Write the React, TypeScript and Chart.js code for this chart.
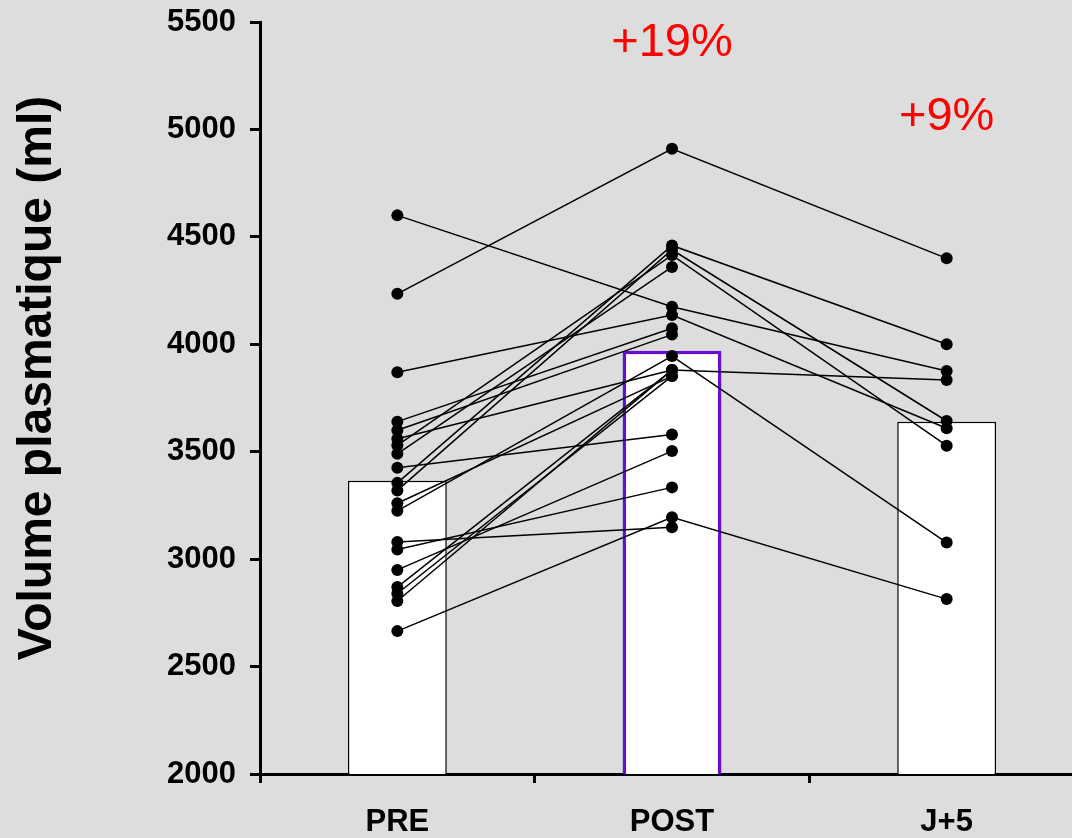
import React, { useEffect, useRef } from 'react';
import { Chart, registerables } from 'chart.js';

Chart.register(...registerables);

const categories = ['PRE', 'POST', 'J+5'];
const meanValues = [3365, 3970, 3640];
const preValues = [4600, 4235, 3870, 3640, 3600, 3560, 3530, 3490, 3425, 3355, 3320, 3260, 3225, 3080, 3045, 2950, 2870, 2840, 2805, 2665];
const postValues = [4175, 4910, 4136, 4075, 4045, 3880, 4415, 4360, 3580, 4460, 4440, 3852, 3945, 3148, 3334, 3503, 3880, 3852, 3880, 3195];
const j5Values: (number | null)[] = [3876, 4400, 3609, null, null, 3834, 3528, null, null, 4000, 3643, null, 3077, null, null, null, null, null, null, 2814];
const changeLabels = ['', '+19%', '+9%'];
const changeLabelValues = [0, 5402, 5058];
const yTitle = 'Volume plasmatique (ml)';

const FONT = "'Liberation Sans', Arial, Helvetica, sans-serif";

const overlayPlugin = {
  id: 'overlayText',
  afterDraw(chart: any) {
    const { ctx, scales } = chart;
    ctx.save();
    ctx.fillStyle = '#ff0000';
    ctx.font = `47px ${FONT}`;
    ctx.textAlign = 'center';
    ctx.textBaseline = 'middle';
    changeLabels.forEach((t, i) => {
      if (!t) return;
      ctx.fillText(t, scales.x.getPixelForValue(i), scales.y.getPixelForValue(changeLabelValues[i]));
    });
    ctx.restore();
    ctx.save();
    ctx.fillStyle = '#000000';
    ctx.font = `bold 48px ${FONT}`;
    ctx.textAlign = 'center';
    ctx.textBaseline = 'middle';
    ctx.translate(38, 378);
    ctx.rotate(-Math.PI / 2);
    ctx.fillText(yTitle, 0, 0);
    ctx.restore();
  },
};

export default function App() {
  const ref = useRef<HTMLCanvasElement>(null);

  useEffect(() => {
    if (!ref.current) return;
    const lineSets = preValues.map((p, i) => ({
      type: 'line' as const,
      data: [p, postValues[i], j5Values[i]],
      borderColor: '#000000',
      borderWidth: 1.5,
      pointRadius: 6,
      pointHoverRadius: 6,
      pointBackgroundColor: '#000000',
      pointBorderWidth: 0,
      fill: false,
      tension: 0,
      spanGaps: false,
      order: 1,
    }));
    const chart = new Chart(ref.current, {
      type: 'bar',
      data: {
        labels: categories,
        datasets: [
          {
            type: 'bar',
            data: meanValues,
            backgroundColor: '#ffffff',
            borderColor: ['#000000', '#6a0dd2', '#000000'],
            borderWidth: [1.5, 3.5, 1.5],
            barPercentage: 0.36,
            categoryPercentage: 1,
            order: 10,
          } as any,
          ...lineSets,
        ],
      },
      options: {
        animation: false,
        responsive: false,
        devicePixelRatio: 1,
        layout: { padding: { top: 22, right: 5, left: 0, bottom: 0 } },
        plugins: { legend: { display: false }, tooltip: { enabled: false } },
        scales: {
          x: {
            type: 'category',
            offset: true,
            grid: { offset: true, drawOnChartArea: false, drawTicks: true, tickLength: 9, tickWidth: 3, color: '#000000' },
            border: { display: true, width: 3, color: '#000000' },
            ticks: { color: '#000000', font: { family: FONT, size: 31, weight: 'bold' }, padding: 21, maxRotation: 0 },
            afterFit: (scale: any) => { scale.height = 64; scale.paddingLeft = 0; scale.paddingRight = 0; },
          },
          y: {
            min: 2000,
            max: 5500,
            grid: { drawOnChartArea: false, drawTicks: true, tickLength: 10, tickWidth: 3, color: '#000000' },
            border: { display: true, width: 3, color: '#000000' },
            ticks: {
              stepSize: 500,
              color: '#000000',
              font: { family: FONT, size: 31, weight: 'bold' },
              padding: 14,
              callback: (v: any) => String(v),
            },
            afterFit: (scale: any) => { scale.width = 260; scale.paddingTop = 0; scale.paddingBottom = 0; },
          },
        },
      },
      plugins: [overlayPlugin],
    });
    return () => chart.destroy();
  }, []);

  return (
    <div style={{ position: 'fixed', left: 0, top: 0, width: 1072, height: 838, overflow: 'hidden', background: '#dddddd' }}>
      <canvas ref={ref} width={1090} height={838} style={{ display: 'block', width: 1090, height: 838 }} />
    </div>
  );
}
